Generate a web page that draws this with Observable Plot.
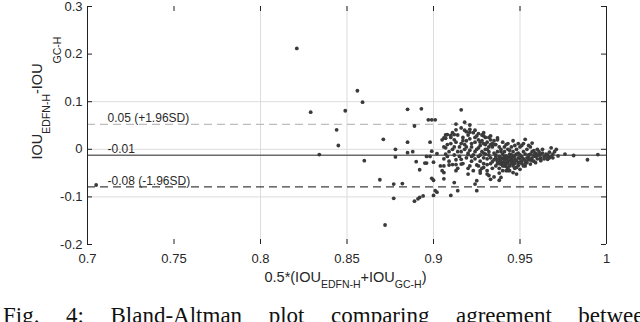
<!DOCTYPE html>
<html>
<head>
<meta charset="utf-8">
<script src="https://cdn.jsdelivr.net/npm/d3@7"></script>
<script src="https://cdn.jsdelivr.net/npm/@observablehq/plot@0.6"></script>
<style>
  html, body { margin: 0; padding: 0; background: #fff; overflow: hidden; }
  #wrap { position: relative; width: 640px; height: 322px; overflow: hidden; }
  #caption {
    position: absolute; left: 3px; top: 304px; width: 652px;
    font-family: "Liberation Serif", "Times New Roman", serif; font-size: 23px;
    line-height: 23px; text-align: justify; text-align-last: justify; white-space: nowrap;
    color: #111;
  }
</style>
</head>
<body>
<div id="wrap"><div id="chart"></div><div id="caption">Fig. 4: Bland-Altman plot comparing agreement between</div></div>
<script>
// ---- data ----
const xTicks = [0.7, 0.75, 0.8, 0.85, 0.9, 0.95, 1];
const xTickLabels = ["0.7", "0.75", "0.8", "0.85", "0.9", "0.95", "1"];
const yTicks = [0.3, 0.2, 0.1, 0, -0.1, -0.2];
const yTickLabels = ["0.3", "0.2", "0.1", "0", "-0.1", "-0.2"];
const xGrid = [0.8, 0.85, 0.9, 0.95];
const yGrid = [0.1, 0, -0.1];

const meanDiff = -0.0125;
const upperLoA = 0.0525;
const lowerLoA = -0.079;
const refLabels = ["0.05 (+1.96SD)", "-0.01", "-0.08 (-1.96SD)"];

// [0.5*(IOU_EDFN-H + IOU_GC-H), IOU_EDFN-H - IOU_GC-H]
const points = [
  [0.705,-0.075],[0.821,0.212],[0.829,0.078],[0.834,-0.011],[0.844,0.041],[0.845,0.008],
  [0.849,0.081],[0.856,0.123],[0.859,0.099],[0.860,-0.024],[0.869,-0.064],[0.871,0.021],
  [0.872,-0.159],[0.877,-0.073],[0.878,-0.016],[0.878,0.000],[0.877,-0.103],[0.882,-0.072],
  [0.885,0.015],[0.885,0.084],[0.885,-0.007],[0.888,-0.005],[0.889,0.049],[0.890,-0.026],
  [0.889,-0.109],[0.891,-0.104],[0.892,-0.101],[0.892,-0.043],[0.893,0.085],[0.894,-0.098],
  [0.895,-0.029],[0.896,-0.029],[0.896,-0.015],[0.897,0.062],[0.898,-0.015],[0.898,0.015],
  [0.899,0.062],[0.899,-0.004],[0.899,-0.061],[0.900,-0.065],[0.900,-0.027],[0.900,-0.097],
  [0.901,0.062],[0.901,-0.087],[0.902,-0.090],[0.902,-0.009],[0.904,-0.035],[0.905,-0.045],
  [0.906,-0.035],[0.906,-0.049],[0.906,-0.062],[0.906,0.024],[0.907,0.023],[0.907,0.003],
  [0.908,0.031],[0.909,-0.033],[0.910,-0.097],[0.910,0.029],[0.911,-0.032],[0.912,-0.070],
  [0.912,0.031],[0.913,-0.045],[0.914,-0.087],[0.913,0.053],[0.913,0.041],[0.916,0.083],
  [0.916,-0.021],[0.916,-0.031],[0.918,0.057],[0.919,0.037],[0.920,-0.052],[0.920,-0.011],
  [0.921,0.051],[0.921,0.036],[0.921,-0.035],[0.924,0.040],[0.924,-0.073],[0.925,-0.066],
  [0.925,-0.087],[0.927,-0.045],[0.929,0.035],[0.929,0.028],[0.929,-0.038],[0.931,-0.052],
  [0.933,0.028],[0.933,-0.063],[0.935,-0.058],[0.937,0.024],[0.938,-0.065],[0.939,-0.059],
  [0.943,-0.045],[0.946,0.018],[0.946,-0.049],[0.948,-0.052],[0.950,-0.042],[0.953,0.021],
  [0.953,-0.035],[0.956,-0.031],[0.957,0.013],[0.959,-0.028],[0.962,-0.024],[0.966,-0.021],
  [0.969,-0.018],[0.971,0.000],[0.972,-0.014],[0.976,-0.010],[0.981,-0.013],[0.989,-0.022],
  [0.995,-0.011],
  [0.905,0.020],[0.906,0.005],[0.907,-0.010],[0.906,-0.020],[0.908,0.010],[0.909,-0.005],
  [0.910,0.025],[0.909,-0.025],[0.907,0.030],
  [0.911,0.000],[0.912,-0.012],[0.913,0.015],[0.914,0.030],[0.912,0.020],[0.913,-0.022],
  [0.915,0.005],[0.914,-0.040],[0.911,0.035],[0.915,-0.015],
  [0.916,0.045],[0.917,0.025],[0.918,0.010],[0.916,-0.005],[0.919,-0.018],[0.917,-0.030],
  [0.920,0.030],[0.918,0.000],[0.919,0.018],[0.920,-0.008],[0.916,0.012],[0.920,-0.040],
  [0.921,0.022],[0.922,0.005],[0.923,-0.012],[0.924,0.015],[0.922,-0.025],[0.925,0.028],
  [0.921,-0.002],[0.923,0.035],[0.924,-0.020],[0.925,0.000],[0.922,0.012],[0.925,-0.033],
  [0.923,-0.045],
  [0.926,0.020],[0.927,0.008],[0.928,-0.005],[0.926,-0.015],[0.929,0.012],[0.927,-0.025],
  [0.930,0.025],[0.928,0.030],[0.929,-0.018],[0.930,0.000],[0.926,-0.035],[0.928,0.018],
  [0.930,-0.010],[0.927,-0.050],[0.929,-0.030],
  [0.931,0.015],[0.932,-0.005],[0.933,0.020],[0.931,-0.020],[0.934,0.005],[0.932,-0.012],
  [0.935,-0.022],[0.933,-0.030],[0.934,0.012],[0.931,0.000],[0.935,-0.008],[0.932,0.025],
  [0.934,-0.040],[0.933,-0.018],[0.935,0.010],[0.932,-0.055],[0.931,-0.045],[0.934,-0.026],
  [0.936,0.010],[0.937,-0.005],[0.938,-0.015],[0.936,-0.020],[0.939,-0.025],[0.937,-0.030],
  [0.938,0.005],[0.940,-0.010],[0.939,-0.018],[0.936,-0.035],[0.940,0.015],[0.937,0.020],
  [0.938,-0.040],[0.939,-0.005],[0.940,-0.028],[0.936,-0.012],[0.937,-0.022],[0.938,-0.050],
  [0.940,-0.035],[0.939,0.000],
  [0.941,-0.015],[0.942,-0.020],[0.943,-0.025],[0.941,-0.005],[0.944,-0.010],[0.942,-0.030],
  [0.943,-0.018],[0.945,-0.022],[0.941,0.005],[0.944,-0.035],[0.942,0.010],[0.943,-0.040],
  [0.945,-0.012],[0.941,-0.028],[0.944,-0.002],[0.942,-0.045],[0.945,-0.030],[0.943,0.000],
  [0.944,-0.016],[0.941,-0.035],
  [0.946,-0.015],[0.947,-0.020],[0.948,-0.010],[0.946,-0.025],[0.949,-0.018],[0.947,-0.030],
  [0.948,0.000],[0.950,-0.012],[0.946,-0.005],[0.949,-0.028],[0.950,-0.020],[0.947,0.008],
  [0.948,-0.038],[0.950,0.005],[0.946,-0.035],[0.949,-0.008],
  [0.951,-0.015],[0.952,-0.020],[0.953,-0.010],[0.951,-0.025],[0.954,-0.018],[0.952,-0.005],
  [0.955,-0.012],[0.953,-0.030],[0.954,0.000],[0.951,0.008],[0.955,-0.022],[0.952,-0.035],
  [0.956,-0.010],[0.957,-0.018],[0.958,-0.012],[0.956,-0.022],[0.959,-0.015],[0.957,-0.005],
  [0.960,-0.020],[0.958,-0.025],[0.959,-0.008],[0.960,0.000],[0.956,0.005],
  [0.961,-0.012],[0.962,-0.018],[0.963,-0.008],[0.964,-0.015],[0.962,-0.022],[0.965,-0.010],
  [0.963,0.000],[0.961,-0.005],
  [0.966,-0.012],[0.967,-0.006],[0.968,-0.015],[0.969,-0.010],[0.967,-0.018],[0.970,-0.005],
  [0.968,0.003],
  [0.936,-0.016],[0.937,-0.026],[0.938,-0.021],[0.939,-0.031],[0.940,-0.019],[0.941,-0.022],
  [0.942,-0.014],[0.943,-0.029],[0.944,-0.024],[0.945,-0.017],[0.946,-0.028],[0.947,-0.013],
  [0.948,-0.024],[0.949,-0.034],[0.950,-0.027],[0.944,-0.045],[0.940,-0.045],[0.938,-0.030],
  [0.942,-0.036],[0.947,-0.040],
  [0.951,-0.030],[0.953,-0.024],[0.955,-0.016],[0.954,-0.028],[0.957,-0.024],[0.958,-0.003],
  [0.960,-0.012],[0.962,-0.010],[0.964,-0.020],[0.966,-0.016],
  [0.918,0.040],[0.921,0.042],[0.924,0.025],[0.926,0.033],[0.927,0.015],[0.917,0.018],
  [0.919,0.005],[0.922,-0.015],[0.924,-0.005],[0.928,-0.040],[0.926,0.003],[0.930,0.010],
  [0.932,0.005],[0.933,0.010],[0.935,0.018],[0.931,-0.032],[0.929,-0.008],[0.927,-0.012],
  [0.952,0.012],[0.955,0.008],[0.949,0.012],[0.945,0.005],[0.943,0.012],
  [0.910,0.012],[0.912,0.005],[0.914,-0.005],[0.908,-0.015],[0.913,-0.032]
];

// ---- chart ----
const W = 640, H = 300;
const mL = 87, mR = 34, mT = 6, mB = 56;
const innerW = W - mL - mR, innerH = H - mT - mB;
const tickLen = 5;

const refData = [
  {y: upperLoA, label: refLabels[0]},
  {y: meanDiff, label: refLabels[1]},
  {y: lowerLoA, label: refLabels[2]}
];

const chart = Plot.plot({
  width: W, height: H,
  marginLeft: mL, marginRight: mR, marginTop: mT, marginBottom: mB,
  style: {fontFamily: "'Liberation Sans', Arial, sans-serif", fontSize: "13px", color: "#262626", background: "#fff", overflow: "visible"},
  x: {domain: [0.7, 1]},
  y: {domain: [-0.2, 0.3]},
  marks: [
    Plot.ruleX(xGrid, {stroke: "#dcdcdc", strokeWidth: 1}),
    Plot.ruleY(yGrid, {stroke: "#dcdcdc", strokeWidth: 1}),
    Plot.ruleY([upperLoA], {stroke: "#bdbdbd", strokeWidth: 1.2, strokeDasharray: "8,5"}),
    Plot.ruleY([meanDiff], {stroke: "#6b6b6b", strokeWidth: 1.5}),
    Plot.ruleY([lowerLoA], {stroke: "#404040", strokeWidth: 1.2, strokeDasharray: "8,5"}),
    Plot.text(refData, {frameAnchor: "left", y: "y", text: "label", dx: 20, dy: -2, lineAnchor: "bottom", textAnchor: "start", fontSize: 12, fill: "#2a2a2a"}),
    Plot.dot(points, {x: d => d[0], y: d => d[1], r: 1.9, fill: "#3a3a3a", stroke: "none"}),
    Plot.ruleX([0.7, 1], {stroke: "#222", strokeWidth: 1}),
    Plot.tickX(xTicks, {x: d => d, insetTop: innerH - tickLen, stroke: "#222"}),
    Plot.tickX(xTicks, {x: d => d, insetBottom: innerH - tickLen, stroke: "#222"}),
    Plot.tickY(yTicks, {y: d => d, insetLeft: innerW - tickLen, stroke: "#222"}),
    Plot.tickY(yTicks, {y: d => d, insetRight: innerW - tickLen, stroke: "#222"}),
    Plot.axisX(xTicks, {anchor: "bottom", tickSize: 0, tickPadding: 9, label: null,
      tickFormat: d => xTickLabels[xTicks.indexOf(d)], fontSize: 13}),
    Plot.axisY(yTicks, {anchor: "left", tickSize: 0, tickPadding: 5, label: null,
      tickFormat: d => yTickLabels[yTicks.indexOf(d)], fontSize: 13})
  ]
});
document.getElementById("chart").appendChild(chart);

// axis titles with subscripts
const svg = d3.select(chart);
const xt = svg.append("text")
  .attr("x", mL + innerW / 2 - 1).attr("y", 282)
  .attr("text-anchor", "middle")
  .attr("font-family", "'Liberation Sans', Arial, sans-serif")
  .attr("font-size", 14.5).attr("fill", "#262626");
xt.append("tspan").text("0.5*(IOU");
xt.append("tspan").attr("dy", 6).attr("font-size", 10.5).text("EDFN-H");
xt.append("tspan").attr("dy", -6).text("+IOU");
xt.append("tspan").attr("dy", 6).attr("font-size", 10.5).text("GC-H");
xt.append("tspan").attr("dy", -6).text(")");

const yt = svg.append("text")
  .attr("transform", "translate(42,98) rotate(-90)")
  .attr("text-anchor", "middle")
  .attr("font-family", "'Liberation Sans', Arial, sans-serif")
  .attr("font-size", 14.5).attr("fill", "#262626");
yt.append("tspan").text("IOU");
yt.append("tspan").attr("dy", 8).attr("font-size", 10.5).text("EDFN-H");
yt.append("tspan").attr("dy", -8).text("-IOU");
yt.append("tspan").attr("dy", 19).attr("font-size", 10.5).text("GC-H");
</script>
</body>
</html>
